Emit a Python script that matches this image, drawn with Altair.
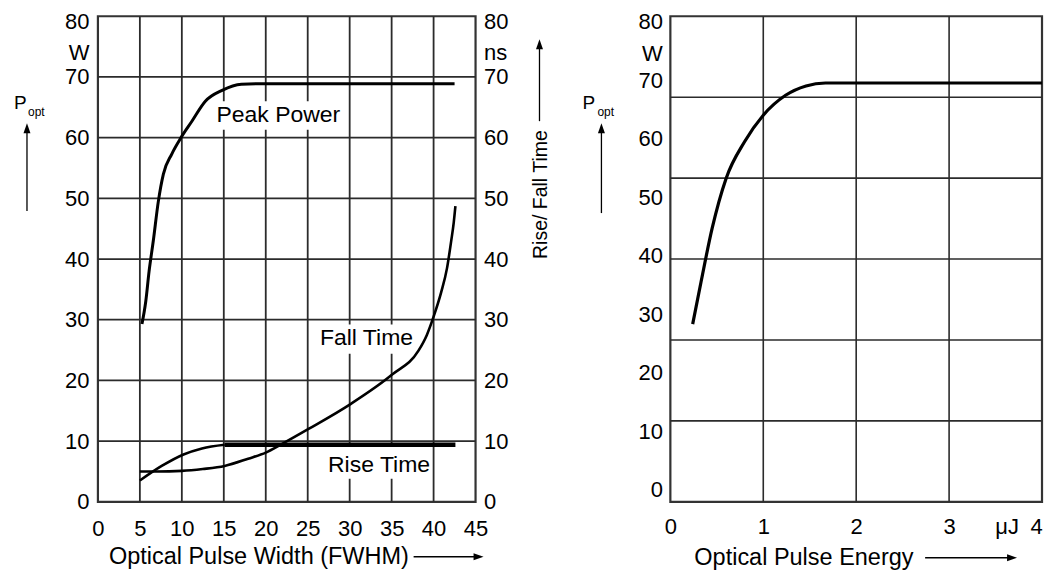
import altair as alt
import pandas as pd

# ---------------- left panel: peak power / rise & fall time vs pulse width ----------------
pw_peak = [5.25, 5.7, 6.1, 6.6, 7.2, 7.8, 8.8, 9.9, 11.2, 12.8, 14.8, 17.1, 20.0, 42.5]
peak_w = [29.3, 33.0, 38.0, 43.0, 49.5, 54.0, 57.3, 60.0, 62.7, 66.0, 67.8, 68.8, 68.9, 68.9]

pw_rise = [5.0, 7.6, 10.2, 12.4, 15.1]
rise_ns = [3.5, 5.9, 7.8, 8.8, 9.4]
pw_rise_flat = [15.1, 42.6]
rise_flat_ns = [9.4, 9.4]

pw_fall = [5.0, 7.0, 10.0, 12.5, 15.1, 17.9, 20.0, 21.9, 25.1, 30.1, 35.1, 38.2,
           39.2, 40.0, 40.9, 41.6, 42.1, 42.4, 42.6]
fall_ns = [5.0, 5.0, 5.1, 5.4, 5.9, 7.1, 8.1, 9.5, 12.0, 16.1, 21.0, 24.9,
           27.5, 30.5, 34.5, 38.5, 43.0, 46.0, 48.7]

grid_pw = [5, 10, 15, 20, 25, 30, 35, 40]
grid_left = [10, 20, 30, 40, 50, 60, 70]
ticks_pw = [0, 5, 10, 15, 20, 25, 30, 35, 40, 45]
ticks_left = [0, 10, 20, 30, 40, 50, 60, 70, 80]
unit_pos_left = 74

curve_labels = ["Peak Power", "Fall Time", "Rise Time"]
curve_label_x = [21.5, 32.0, 33.5]
curve_label_y = [63.7, 27.0, 6.1]
box_x1 = [13.6, 26.2, 27.3]
box_x2 = [29.2, 37.8, 39.7]
box_y1 = [61.3, 24.4, 3.8]
box_y2 = [66.0, 29.2, 9.2]

# ---------------- right panel: peak power vs pulse energy ----------------
energy_uj = [0.24, 0.33, 0.45, 0.60, 0.80, 1.00, 1.24, 1.46, 1.67, 4.0]
power_w = [28.3, 35.5, 44.7, 53.2, 59.5, 64.0, 67.4, 69.0, 69.5, 69.5]

grid_e = [1, 2, 3]
grid_div = [1, 2, 3, 4, 5]
ticks_e = [0, 1, 2, 3, 3.62, 4]
ticks_right = [0, 10, 20, 30, 40, 50, 60, 70, 80]
unit_pos_right = 74.5

FONT = "Liberation Sans"
GRID = "#2b2b2b"
W1, W2, H = 378, 372, 486
HEAD = "M0,-1L0.35,0L-0.35,0Z"


def df(**cols):
    return pd.DataFrame(cols)


def ptext(s, x, y, size, angle=0, align="left", baseline="alphabetic"):
    return alt.Chart(df(t=[s])).mark_text(
        align=align, baseline=baseline, fontSize=size, font=FONT, angle=angle, color="black"
    ).encode(x=alt.value(x), y=alt.value(y), text="t:N")


def arrow_up(x, y_tip, y_end):
    rule = alt.Chart(df(a=[0])).mark_rule(color="black", strokeWidth=1.3).encode(
        x=alt.value(x), y=alt.value(y_tip + 8), y2=alt.value(y_end))
    head = alt.Chart(df(a=[0])).mark_point(
        shape=HEAD, size=400, filled=True, color="black", opacity=1, strokeWidth=0
    ).encode(x=alt.value(x), y=alt.value(y_tip + 10))
    return [rule, head]


def arrow_right(x_start, x_tip, y):
    rule = alt.Chart(df(a=[0])).mark_rule(color="black", strokeWidth=1.3).encode(
        x=alt.value(x_start), x2=alt.value(x_tip - 8), y=alt.value(y))
    head = alt.Chart(df(a=[0])).mark_point(
        shape=HEAD, size=400, filled=True, color="black", opacity=1, strokeWidth=0, angle=90
    ).encode(x=alt.value(x_tip - 10), y=alt.value(y))
    return [rule, head]


# ---------- left panel ----------
xL = alt.Scale(domain=[0, 45], nice=False, zero=False)
yL = alt.Scale(domain=[0, 80], nice=False, zero=False)
x_axis_L = alt.Axis(values=ticks_pw, title=None, labelPadding=17, format="d", labelOverlap=False)
flush80 = {"condition": {"test": "datum.value == 80", "value": 5}, "value": 0}
y_axis_L = alt.Axis(values=ticks_left + [unit_pos_left], title=None, orient="left",
                    labelExpr=f"datum.value == {unit_pos_left} ? 'W' : datum.label",
                    labelPadding=9, labelOffset=flush80, labelOverlap=False)
y_axis_R = alt.Axis(values=ticks_left + [unit_pos_left], title=None, orient="right",
                    labelExpr=f"datum.value == {unit_pos_left} ? 'ns' : datum.label",
                    labelPadding=8, labelOffset=flush80, labelOverlap=False)


def XL(f="x"):
    return alt.X(f"{f}:Q", scale=xL, axis=x_axis_L)


def YL(f="y"):
    return alt.Y(f"{f}:Q", scale=yL, axis=y_axis_L)


def YR(f="y"):
    return alt.Y(f"{f}:Q", scale=yL, axis=y_axis_R)


gridv_L = alt.Chart(df(x=grid_pw)).mark_rule(color=GRID, strokeWidth=1.8).encode(x=XL())
gridh_L = alt.Chart(df(y=grid_left)).mark_rule(color=GRID, strokeWidth=1.8).encode(y=YL())
boxes = alt.Chart(df(x=box_x1, x2=box_x2, y=box_y1, y2=box_y2)).mark_rect(color="white").encode(
    x=XL(), x2="x2:Q", y=YL(), y2="y2:Q")
peak = alt.Chart(df(x=pw_peak, y=peak_w)).mark_line(
    color="black", strokeWidth=3, interpolate="monotone").encode(x=XL(), y=YL())
labels = alt.Chart(df(x=curve_label_x, y=curve_label_y, t=curve_labels)).mark_text(
    font=FONT, fontSize=23, align="center", baseline="middle", color="black"
).encode(x=XL(), y=YL(), text="t:N")

left_annot = [
    ptext("P", -84, 93, 19),
    ptext("opt", -70, 100, 12),
    *arrow_up(-71, 107, 195),
    ptext("Rise/ Fall Time", 444, 178.5, 19.5, angle=270, align="center", baseline="middle"),
    *arrow_up(442, 23, 105),
    ptext("Optical Pulse Width (FWHM)", 11, 541, 23.5, baseline="middle"),
    *arrow_right(316, 386, 541),
]

layer_A = alt.layer(gridv_L, gridh_L, boxes, peak, labels, *left_annot)

rise = alt.Chart(df(x=pw_rise, y=rise_ns)).mark_line(
    color="black", strokeWidth=2.6, interpolate="monotone").encode(x=XL(), y=YR())
rise_flat = alt.Chart(df(x=pw_rise_flat, y=rise_flat_ns)).mark_line(
    color="black", strokeWidth=4.5).encode(x=XL(), y=YR())
fall = alt.Chart(df(x=pw_fall, y=fall_ns)).mark_line(
    color="black", strokeWidth=2.6, interpolate="monotone").encode(x=XL(), y=YR())
layer_B = alt.layer(rise, rise_flat, fall)

left = alt.layer(layer_A, layer_B).resolve_scale(y="independent").properties(width=W1, height=H)

# ---------- right panel ----------
xE = alt.Scale(domain=[0, 4], nice=False, zero=False)
yE = alt.Scale(domain=[-2.05, 80.9], nice=False, zero=False)
yG = alt.Scale(domain=[0, 6], nice=False, zero=False)
x_axis_E = alt.Axis(values=ticks_e, title=None, labelPadding=15, labelOverlap=False,
                    labelExpr="datum.value == 3.62 ? 'μJ' : format(datum.value, 'd')",
                    labelOffset={"condition": {"test": "datum.value == 4", "value": -6}, "value": 0})
y_axis_E = alt.Axis(values=ticks_right + [unit_pos_right], title=None, orient="left",
                    labelExpr=f"datum.value == {unit_pos_right} ? 'W' : datum.label",
                    labelPadding=8, labelOverlap=False)


def XE(f="x"):
    return alt.X(f"{f}:Q", scale=xE, axis=x_axis_E)


gridh_R = alt.Chart(df(g=grid_div)).mark_rule(color=GRID, strokeWidth=1.6).encode(
    y=alt.Y("g:Q", scale=yG, axis=None))
gridv_R = alt.Chart(df(x=grid_e)).mark_rule(color=GRID, strokeWidth=1.6).encode(x=XE())
curve_R = alt.Chart(df(x=energy_uj, y=power_w)).mark_line(
    color="black", strokeWidth=3.2, interpolate="monotone"
).encode(x=XE(), y=alt.Y("y:Q", scale=yE, axis=y_axis_E))

right_annot = [
    ptext("P", -88, 93, 19),
    ptext("opt", -73, 100, 12),
    *arrow_up(-69, 107, 197),
    ptext("Optical Pulse Energy", 24, 542, 23.5, baseline="middle"),
    *arrow_right(255, 347, 542),
]

right_main = alt.layer(gridv_R, curve_R, *right_annot)
right = alt.layer(gridh_R, right_main).resolve_scale(y="independent").properties(width=W2, height=H)

chart = (
    alt.hconcat(left, right, spacing=28)
    .properties(padding={"left": 4, "top": 0, "right": 0, "bottom": 0})
    .configure(font=FONT)
    .configure_view(stroke="#333333", strokeWidth=2.2)
    .configure_axis(labelFont=FONT, labelFontSize=22, labelColor="black", ticks=False,
                    domain=False, grid=False, labelFlush=False, labelOverlap=False,
                    labelBound=False)
)

chart.save("out.html", embed_options={"renderer": "svg", "actions": False})
